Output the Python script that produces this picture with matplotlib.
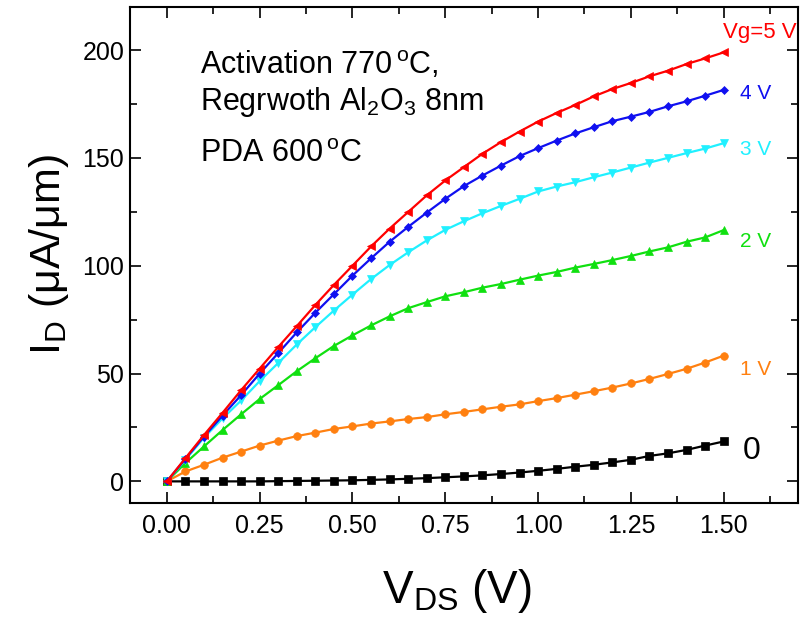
"""I-V output curves (ID vs VDS) for several gate voltages."""

import matplotlib
matplotlib.use("Agg")
import matplotlib.pyplot as plt
from matplotlib.ticker import MultipleLocator

plt.rcParams["font.family"] = ["Liberation Sans", "DejaVu Sans"]
plt.rcParams["mathtext.fontset"] = "custom"
plt.rcParams["mathtext.rm"] = "Liberation Sans"
plt.rcParams["mathtext.it"] = "Liberation Sans"

vds = [round(0.05 * i, 2) for i in range(31)]

id_0v = [0, 0, 0, 0, 0, 0, 0.1, 0.2, 0.3, 0.4, 0.5, 0.7, 0.9, 1.2, 1.5, 1.9,
         2.3, 2.8, 3.4, 4.1, 4.9, 5.8, 6.8, 7.7, 8.8, 10.0, 11.8, 13.0, 14.6,
         16.6, 18.5]
id_1v = [0, 4.6, 7.7, 11.0, 13.8, 16.6, 18.9, 21.0, 22.6, 24.3, 25.5, 26.8,
         27.8, 28.9, 29.8, 31.1, 32.2, 33.4, 34.6, 35.7, 37.2, 38.6, 40.2,
         41.8, 43.5, 45.4, 47.5, 49.8, 52.2, 55.1, 58.3]
id_2v = [0, 8.5, 16.2, 23.8, 31.1, 38.2, 44.6, 51.1, 57.1, 62.8, 67.7, 72.3,
         76.5, 80.3, 83.1, 85.8, 87.7, 89.8, 91.5, 93.5, 95.4, 97.1, 99.1,
         100.8, 102.6, 104.5, 106.6, 108.5, 111.1, 113.1, 116.5]
id_3v = [0, 10.0, 20.3, 29.2, 37.5, 46.5, 54.9, 63.5, 71.5, 79.2, 86.6, 93.8,
         100.3, 106.2, 111.7, 116.6, 120.6, 124.3, 127.7, 131.0, 134.4, 136.7,
         138.7, 141.0, 143.2, 145.5, 147.8, 150.0, 152.2, 154.3, 156.8]
id_4v = [0, 10.5, 20.8, 30.5, 40.0, 50.0, 59.5, 69.1, 78.2, 86.8, 95.4, 103.4,
         111.1, 118.0, 124.6, 131.0, 136.9, 141.8, 146.4, 150.8, 154.5, 158.0,
         161.3, 164.2, 167.0, 169.1, 171.3, 173.9, 176.2, 178.8, 181.5]
id_5v = [0, 10.8, 21.5, 31.8, 42.3, 52.3, 62.3, 72.0, 81.8, 91.1, 100.0, 108.9,
         117.2, 124.9, 132.6, 139.5, 145.7, 151.9, 157.3, 162.2, 166.8, 170.8,
         174.5, 178.5, 181.9, 184.7, 187.8, 190.4, 193.5, 196.1, 198.9]

series = [
    (id_0v, "#000000", "s", "0"),
    (id_1v, "#ff8010", "o", "1 V"),
    (id_2v, "#10e010", "^", "2 V"),
    (id_3v, "#20f0ff", "v", "3 V"),
    (id_4v, "#1010f0", "D", "4 V"),
    (id_5v, "#ff0000", "<", "Vg=5 V"),
]
label_y = {"0": 14, "1 V": 52, "2 V": 111, "3 V": 154, "4 V": 180, "Vg=5 V": 208}

fig = plt.figure(figsize=(8.06, 6.24), dpi=100)
ax = fig.add_axes([0.161, 0.194, 0.829, 0.795])

for ys, color, marker, name in series:
    ax.plot(vds, ys, color=color, marker=marker, markersize=5.5 if marker != "D" else 4.5,
            linewidth=1.6, markeredgewidth=0.5)
    if name == "0":
        ax.text(1.55, label_y[name], name, color=color, fontsize=23, va="center")
    elif name.startswith("Vg"):
        ax.text(1.498, label_y[name], name, color=color, fontsize=16, va="center")
    else:
        ax.text(1.545, label_y[name], name, color=color, fontsize=15, va="center")

ax.text(0.09, 189, r"Activation 770$\,^{\rm o}$C,", fontsize=22, va="baseline")
ax.text(0.09, 172, r"Regrwoth Al$_{2}$O$_{3}$ 8nm", fontsize=22, va="baseline")
ax.text(0.09, 148, r"PDA 600$\,^{\rm o}$C", fontsize=22, va="baseline")

ax.set_xlim(-0.1, 1.7)
ax.set_ylim(-10, 220)
ax.xaxis.set_minor_locator(MultipleLocator(0.125))
ax.yaxis.set_major_locator(MultipleLocator(50))
ax.yaxis.set_minor_locator(MultipleLocator(25))
ax.set_xticks([0, 0.25, 0.5, 0.75, 1.0, 1.25, 1.5])
ax.set_xticklabels(["0.00", "0.25", "0.50", "0.75", "1.00", "1.25", "1.50"])
ax.tick_params(which="both", direction="in", top=True, right=True, labelsize=18, width=1.2)
ax.tick_params(which="major", length=8)
ax.tick_params(which="minor", length=5)
ax.tick_params(axis="x", which="major", pad=8)
ax.tick_params(axis="y", which="major", pad=4)
for sp in ax.spines.values():
    sp.set_linewidth(1.5)

ax.set_xlabel(r"V$_{\rm DS}$ (V)", fontsize=33)
ax.xaxis.set_label_coords(0.49, -0.13)
ax.set_ylabel(r"I$_{\rm D}$ ($\mu$A/$\mu$m)", fontsize=31, labelpad=8)

fig.savefig("out.png", dpi=100)
